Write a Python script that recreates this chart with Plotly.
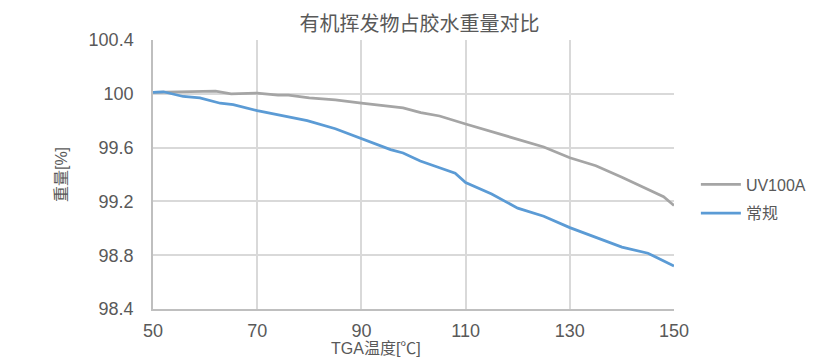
import plotly.graph_objects as go

# --- data ---
temp_uv = [50, 55, 60, 62, 65, 70, 74, 76, 80, 85, 90, 94, 98, 101.4, 105, 110,
           115, 120, 125, 130, 135, 140, 145, 148, 150]
wt_uv = [100.01, 100.015, 100.02, 100.02, 100.0, 100.005, 99.99, 99.99, 99.97, 99.955,
         99.93, 99.915, 99.895, 99.86, 99.835, 99.775, 99.72, 99.665, 99.605, 99.525,
         99.465, 99.38, 99.29, 99.235, 99.17]

temp_cg = [50, 52, 55.8, 59, 62.9, 65.4, 70, 73, 79.6, 85, 90, 95.6, 98, 101.3, 105,
           108, 110, 115, 120, 125, 130, 135, 140, 145, 150]
wt_cg = [100.01, 100.015, 99.98, 99.97, 99.93, 99.92, 99.875, 99.85, 99.80, 99.74,
         99.665, 99.585, 99.56, 99.50, 99.45, 99.41, 99.34, 99.255, 99.15, 99.09,
         99.005, 98.935, 98.86, 98.815, 98.72]

series_names = ["UV100A", "常规"]
x_ticks = [50, 70, 90, 110, 130, 150]
y_ticks = [98.4, 98.8, 99.2, 99.6, 100.0, 100.4]
y_tick_text = ["98.4", "98.8", "99.2", "99.6", "100", "100.4"]

title_text = "有机挥发物占胶水重量对比"
x_title = "TGA温度[℃]"
y_title = "重量[%]"

NUMFONT = "Liberation Sans Narrow, Liberation Sans, Noto Sans CJK SC, sans-serif"
FONT = "Liberation Sans, Noto Sans CJK SC, sans-serif"
TXT = "#595959"
GRID = "#D9D9D9"

fig = go.Figure()
fig.add_trace(go.Scatter(x=temp_uv, y=wt_uv, mode="lines", name=series_names[0],
                         legendgroup="a",
                         line=dict(color="#A5A5A5", width=2.75)))
fig.add_trace(go.Scatter(x=temp_cg, y=wt_cg, mode="lines", name=series_names[1],
                         legendgroup="b",
                         line=dict(color="#5B9BD5", width=2.75)))

# the page body has an 8px margin, so the figure is sized/margined to compensate
fig.update_layout(
    width=823, height=355,
    margin=dict(l=145, r=157, t=32, b=54, autoexpand=False),
    paper_bgcolor="white", plot_bgcolor="white",
    font=dict(family=FONT, color=TXT, size=16),
    title=dict(text=title_text, x=0.5, xanchor="center", y=0.956, yanchor="middle",
               font=dict(family="Noto Sans CJK SC, sans-serif", size=20, color=TXT)),
    showlegend=True,
    legend=dict(x=1.042, xanchor="left", y=0.409, yanchor="middle",
                font=dict(size=16, color=TXT, family=FONT), tracegroupgap=5,
                itemwidth=40, bgcolor="rgba(0,0,0,0)"),
    annotations=[dict(text=x_title, xref="paper", yref="paper", x=0.428, y=0,
                      xanchor="center", yanchor="middle", yshift=-39, showarrow=False,
                      font=dict(size=16, color=TXT, family=FONT))],
)

fig.update_xaxes(
    range=[50, 150], tickvals=x_ticks, ticks="", showgrid=True, gridcolor=GRID,
    gridwidth=1.5, zeroline=False, showline=True, linecolor="#BFBFBF", linewidth=1.5,
    tickfont=dict(size=18, color=TXT, family=NUMFONT), ticklabelstandoff=5,
)
fig.update_yaxes(
    range=[98.4, 100.4], tickvals=y_ticks, ticktext=y_tick_text, ticks="",
    showgrid=True, gridcolor=GRID, gridwidth=1.5, zeroline=False,
    showline=True, linecolor="#BFBFBF", linewidth=1.5,
    tickfont=dict(size=18, color=TXT, family=NUMFONT), ticklabelstandoff=14,
    title=dict(text=y_title, standoff=17, font=dict(size=16, color=TXT, family=FONT)),
)

fig.write_html("out.html")
